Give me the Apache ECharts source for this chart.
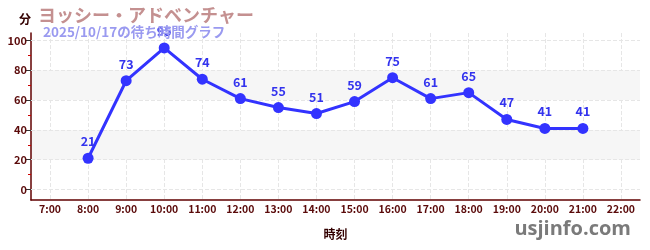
<!DOCTYPE html>
<html><head><meta charset="utf-8">
<script src="https://cdn.jsdelivr.net/npm/echarts@6/dist/echarts.min.js"></script>
<style>html,body{margin:0;padding:0;background:#fff}#c{width:650px;height:250px}</style>
</head><body><div id="c"></div>
<script>
const categories = ['7:00','8:00','9:00','10:00','11:00','12:00','13:00','14:00','15:00','16:00','17:00','18:00','19:00','20:00','21:00','22:00'];
const waitTimes = [null,21,73,95,74,61,55,51,59,75,61,65,47,41,41,null];
const yLabelTicks = [0,20,40,60,80,100];
const yMinorTicks = [10,30,50,70,90];
const bands = [[20,40],[60,80]];
const titleText = 'ヨッシー・アドベンチャー';
const subtitleText = '2025/10/17の待ち時間グラフ';

const font = '"Noto Sans CJK JP","Noto Sans",sans-serif';
const chart = echarts.init(document.getElementById('c'), null, {renderer:'canvas'});
chart.setOption({
  animation:false,
  backgroundColor:'#fff',
  title:[
    {text:titleText, left:33, top:1, textStyle:{color:'#c49090', fontSize:18, fontWeight:'bold', fontFamily:font}},
    {text:subtitleText, left:38, top:20, textStyle:{color:'#9a9af0', fontSize:13.5, fontWeight:'bold', fontFamily:font}},
    {text:'usjinfo.com', right:14, bottom:6, textStyle:{color:'#7a7a7a', fontSize:20, fontWeight:'bold', fontFamily:'"Open Sans","DejaVu Sans",sans-serif'}}
  ],
  grid:{left:31, right:10, top:33, bottom:50},
  xAxis:{
    type:'category', data:categories, boundaryGap:true,
    name:'時刻', nameLocation:'middle', nameGap:28,
    nameTextStyle:{color:'#330000', fontSize:12, fontWeight:'bold', fontFamily:font},
    axisLine:{onZero:false, lineStyle:{color:'#600000', width:1.5}},
    axisTick:{alignWithLabel:true, length:4, lineStyle:{color:'#444'}},
    axisLabel:{color:'#5a0a0a', fontSize:10.5, fontWeight:'bold', fontFamily:font, margin:4, interval:0},
    splitLine:{show:true, alignWithLabel:true, lineStyle:{color:'#e6e6e6', type:'dashed'}}
  },
  yAxis:[{
    type:'value', min:-7, max:105,
    name:'分', nameLocation:'end', nameGap:8,
    nameTextStyle:{color:'#330000', fontSize:12, fontWeight:'bold', fontFamily:font, align:'right'},
    axisLine:{show:true, lineStyle:{color:'#600000', width:1.5}},
    axisTick:{show:true, customValues:yLabelTicks, length:5, lineStyle:{color:'#333'}},
    axisLabel:{customValues:yLabelTicks, color:'#5a0a0a', fontSize:11, fontWeight:'bold', fontFamily:font, margin:4},
    splitLine:{show:false}
  },{
    type:'value', min:-7, max:105, position:'left',
    axisLine:{show:false, onZero:false},
    axisTick:{show:true, customValues:yMinorTicks, length:3, lineStyle:{color:'#cc0000'}},
    axisLabel:{show:false},
    splitLine:{show:false}
  }],
  series:[{
    type:'line', data:[], yAxisIndex:0, silent:true, z:1,
    markArea:{silent:true, z:0, itemStyle:{color:'#f6f6f6'}, label:{show:false},
      data:bands.map(b=>[{yAxis:b[0]},{yAxis:b[1]}])},
    markLine:{silent:true, z:1, symbol:'none', label:{show:false},
      lineStyle:{color:'#e6e6e6', type:'dashed', width:1},
      data:yLabelTicks.map(v=>({yAxis:v}))}
  },{
    type:'line', data:waitTimes, yAxisIndex:0,
    symbol:'circle', symbolSize:11,
    itemStyle:{color:'#3333ff'},
    lineStyle:{color:'#3333ff', width:3},
    label:{show:true, position:'top', distance:5, color:'#3333ee', fontSize:12.5, fontWeight:'bold', fontFamily:font},
    z:3
  }]
});
</script></body></html>
